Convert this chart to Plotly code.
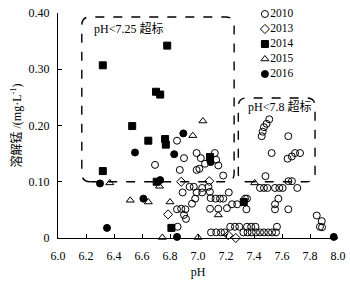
import plotly.graph_objects as go

# ---- data (pH, dissolved Mn mg/L) ----
ph_2010 = [6.693, 6.85, 6.90, 6.99, 7.02, 7.12, 7.13, 7.05, 7.145, 6.87, 6.99, 7.01, 7.18,
           6.94, 6.97, 7.03, 7.075, 6.89, 6.99, 7.03, 7.085, 7.22, 6.98, 7.09, 7.125, 7.157, 7.18,
           6.957, 6.85, 6.88, 6.91, 6.90, 6.914, 7.086, 7.145, 7.207, 7.243, 7.28, 7.336, 7.35,
           7.346, 6.854, 7.093, 7.13, 7.164, 7.19, 7.23, 7.264, 7.295, 7.35, 7.38, 7.41, 7.564,
           7.324, 7.354, 7.384, 7.414, 7.443, 7.471, 7.502, 7.529, 7.557,
           7.443, 7.471, 7.496, 7.55, 7.581, 7.605, 7.709, 7.482, 7.646, 7.671, 7.574, 7.55,
           7.55, 7.645, 7.848, 7.884, 7.871, 7.886,
           7.509, 7.49, 7.471, 7.462, 7.455, 7.645, 7.526, 7.64, 7.67, 7.693, 7.729]
mn_2010 = [0.130, 0.173, 0.142, 0.151, 0.142, 0.151, 0.139, 0.132, 0.129, 0.121, 0.121, 0.123, 0.111,
           0.091, 0.091, 0.089, 0.091, 0.081, 0.081, 0.081, 0.082, 0.081, 0.070, 0.071, 0.070, 0.070, 0.070,
           0.061, 0.051, 0.052, 0.051, 0.041, 0.034, 0.052, 0.052, 0.053, 0.060, 0.060, 0.070, 0.070,
           0.051, 0.020, 0.010, 0.010, 0.010, 0.010, 0.020, 0.020, 0.020, 0.020, 0.020, 0.020, 0.020,
           0.010, 0.010, 0.010, 0.010, 0.010, 0.010, 0.010, 0.010, 0.010,
           0.089, 0.089, 0.089, 0.089, 0.089, 0.089, 0.089, 0.110, 0.101, 0.101, 0.070, 0.060,
           0.051, 0.051, 0.040, 0.030, 0.020, 0.019,
           0.211, 0.203, 0.197, 0.189, 0.181, 0.181, 0.151, 0.141, 0.145, 0.151, 0.151]

ph_2013 = [6.88, 7.08, 6.786, 7.216, 7.27]
mn_2013 = [0.100, 0.101, 0.042, 0.005, 0.000]

ph_2014 = [6.78, 6.32, 6.70, 6.73, 6.53, 6.645, 6.765, 6.77, 6.32, 6.705, 7.086, 7.327, 6.81]
mn_2014 = [0.342, 0.307, 0.260, 0.255, 0.199, 0.173, 0.176, 0.166, 0.119, 0.100, 0.144, 0.064, 0.018]

ph_2015 = [7.035, 6.963, 6.37, 6.725, 6.516, 6.645, 6.80, 6.745, 7.00, 7.145, 7.405]
mn_2015 = [0.208, 0.182, 0.098, 0.092, 0.067, 0.064, 0.064, 0.001, 0.001, 0.041, 0.098]

ph_2016 = [6.55, 6.83, 6.895, 7.09, 6.30, 6.73, 6.61, 6.35, 6.85, 7.97]
mn_2016 = [0.152, 0.149, 0.186, 0.135, 0.097, 0.103, 0.070, 0.018, 0.002, 0.002]

years = ["2010", "2013", "2014", "2015", "2016"]
symbols = ["circle-open", "diamond-open", "square", "triangle-up-open", "circle"]
series_x = [ph_2010, ph_2013, ph_2014, ph_2015, ph_2016]
series_y = [mn_2010, mn_2013, mn_2014, mn_2015, mn_2016]

x_ticks = [6.0, 6.2, 6.4, 6.6, 6.8, 7.0, 7.2, 7.4, 7.6, 7.8, 8.0]
x_ticklabels = ["6.0", "6.2", "6.4", "6.6", "6.8", "7.0", "7.2", "7.4", "7.6", "7.8", "8.0"]
y_ticks = [0, 0.10, 0.20, 0.30, 0.40]
y_ticklabels = ["0", "0.10", "0.20", "0.30", "0.40"]

box1 = dict(x0=6.17, x1=7.258, y0=0.100, y1=0.393, label="pH<7.25 超标", lx=6.24, ly=0.373)
box2 = dict(x0=7.288, x1=7.836, y0=0.100, y1=0.249, label="pH<7.8 超标", lx=7.34, ly=0.233)

FONT = "Liberation Serif, Times New Roman, Noto Sans CJK SC, serif"

fig = go.Figure()
for name, sym, xs, ys in zip(years, symbols, series_x, series_y):
    fig.add_trace(go.Scatter(
        x=xs, y=ys, mode="markers", name=name, showlegend=False, cliponaxis=False,
        marker=dict(symbol=sym, size=7, color="black", line=dict(width=1, color="black")),
    ))

# legend built from the series names on a hidden helper axis
fig.add_trace(go.Scatter(
    x=[0] * len(years), y=list(range(len(years))), xaxis="x2", yaxis="y2",
    mode="markers+text", text=years, textposition="middle right",
    textfont=dict(family=FONT, size=11.5, color="black"),
    marker=dict(symbol=symbols, size=7, color="black", line=dict(width=1, color="black")),
    showlegend=False, cliponaxis=False, hoverinfo="skip",
))


def rounded_path(x0, x1, y0, y1, rx=0.06, ry=0.015):
    return (f"M {x0+rx},{y0} L {x1-rx},{y0} Q {x1},{y0} {x1},{y0+ry} "
            f"L {x1},{y1-ry} Q {x1},{y1} {x1-rx},{y1} "
            f"L {x0+rx},{y1} Q {x0},{y1} {x0},{y1-ry} "
            f"L {x0},{y0+ry} Q {x0},{y0} {x0+rx},{y0} Z")


shapes = []
annotations = []
for b in (box1, box2):
    shapes.append(dict(type="path", xref="x", yref="y",
                       path=rounded_path(b["x0"], b["x1"], b["y0"], b["y1"]),
                       line=dict(color="black", width=1.4, dash="dash")))
    annotations.append(dict(x=b["lx"], y=b["ly"], xref="x", yref="y", text=b["label"],
                            showarrow=False, xanchor="left", yanchor="middle",
                            font=dict(family=FONT, size=12, color="black")))

fig.update_layout(
    width=350, height=281,
    margin=dict(l=58, r=12, t=13, b=43, autoexpand=False),
    paper_bgcolor="white", plot_bgcolor="white",
    font=dict(family=FONT, size=12, color="black"),
    shapes=shapes, annotations=annotations,
    xaxis=dict(range=[6.0, 8.0], tickvals=x_ticks, ticktext=x_ticklabels, automargin=False,
               showline=True, linecolor="black", linewidth=1, showgrid=False, zeroline=False,
               ticks="inside", ticklen=4, tickcolor="black", tickfont=dict(size=12),
               ticklabelstandoff=7, ticklabeloverflow="allow",
               title=dict(text="pH", font=dict(size=12), standoff=5)),
    yaxis=dict(range=[0, 0.40], tickvals=y_ticks, ticktext=y_ticklabels, automargin=False,
               showline=True, linecolor="black", linewidth=1, showgrid=False, zeroline=False,
               ticks="inside", ticklen=4, tickcolor="black", tickfont=dict(size=12),
               ticklabelstandoff=5, ticklabeloverflow="allow",
               title=dict(text="溶解锰 /(mg·L<sup>-1</sup>)", font=dict(size=12), standoff=4)),
    xaxis2=dict(domain=[0.739, 1.0], range=[0, 1], visible=False, anchor="y2", automargin=False),
    yaxis2=dict(domain=[0.7289, 0.9956], range=[4, 0], visible=False, anchor="x2", automargin=False),
)

# remove the browser's default 8 px body margin so the figure starts at the page corner
fig.write_html("out.html", config={"displayModeBar": False},
               post_script="document.body.style.margin='0';")
